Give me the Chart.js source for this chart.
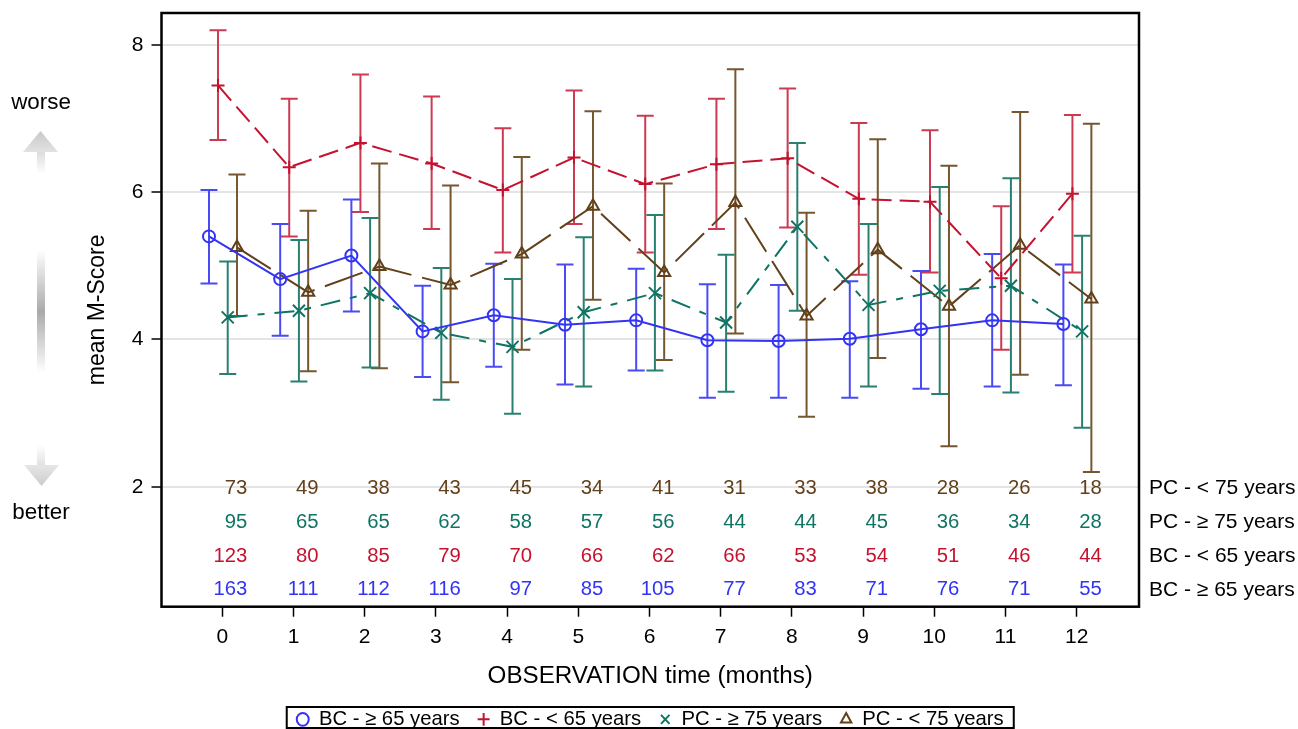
<!DOCTYPE html>
<html>
<head>
<meta charset="utf-8">
<title>mean M-Score</title>
<script src="https://cdn.jsdelivr.net/npm/chart.js@4/dist/chart.umd.min.js"></script>
<style>
  html, body { margin: 0; padding: 0; background: #fff; }
  canvas { display: block; }
</style>
</head>
<body>
<canvas id="chart" width="1298" height="729"></canvas>
<script>
const months = [0, 1, 2, 3, 4, 5, 6, 7, 8, 9, 10, 11, 12];
const seriesNames = ['BC - ≥ 65 years', 'BC - < 65 years', 'PC - ≥ 75 years', 'PC - < 75 years'];
const xOffsets = [-0.187, -0.06, 0.076, 0.206];
const markers = ['circle', 'cross', 'crossRot', 'triangle'];
const markerSizes = [6, 6.5, 8.5, 7];
const colors = ['#3333f5', '#c4122f', '#0f7464', '#62401a'];
const barColors = ['#4a4af5', '#cc3a52', '#2a8070', '#76562f'];
const dashes = [[], [20, 8], [20, 10, 7, 10], [40, 11]];

const meanBC65 = [5.40, 4.82, 5.14, 4.11, 4.33, 4.20, 4.26, 3.99, 3.98, 4.01, 4.14, 4.26, 4.21];
const upperBC65 = [6.03, 5.57, 5.90, 4.73, 5.03, 5.02, 4.96, 4.75, 4.74, 4.79, 4.93, 5.16, 5.02];
const lowerBC65 = [4.76, 4.05, 4.38, 3.49, 3.63, 3.39, 3.58, 3.21, 3.21, 3.21, 3.33, 3.36, 3.38];

const meanBCu65 = [7.45, 6.34, 6.67, 6.39, 6.03, 6.47, 6.11, 6.38, 6.46, 5.91, 5.87, 4.83, 5.98];
const upperBCu65 = [8.20, 7.27, 7.60, 7.30, 6.87, 7.38, 7.04, 7.27, 7.41, 6.94, 6.84, 5.81, 7.05];
const lowerBCu65 = [6.71, 5.40, 5.73, 5.50, 5.18, 5.57, 5.18, 5.50, 5.52, 4.88, 4.91, 3.86, 4.91];

const meanPC75 = [4.30, 4.39, 4.63, 4.09, 3.90, 4.37, 4.63, 4.23, 5.53, 4.47, 4.66, 4.73, 4.11];
const upperPC75 = [5.06, 5.35, 5.65, 4.97, 4.82, 5.39, 5.69, 5.15, 6.67, 5.57, 6.07, 6.19, 5.41];
const lowerPC75 = [3.53, 3.43, 3.62, 3.18, 2.99, 3.36, 3.58, 3.29, 4.39, 3.36, 3.26, 3.28, 2.80];

const meanPCu75 = [5.25, 4.64, 4.99, 4.74, 5.16, 5.81, 4.91, 5.86, 4.32, 5.22, 4.45, 5.28, 4.55];
const upperPCu75 = [6.24, 5.75, 6.39, 6.09, 6.48, 7.10, 6.12, 7.67, 5.72, 6.72, 6.36, 7.09, 6.93];
const lowerPCu75 = [4.32, 3.57, 3.61, 3.42, 3.86, 4.54, 3.72, 4.08, 2.95, 3.75, 2.55, 3.52, 2.20];

const nBC65 = [163, 111, 112, 116, 97, 85, 105, 77, 83, 71, 76, 71, 55];
const nBCu65 = [123, 80, 85, 79, 70, 66, 62, 66, 53, 54, 51, 46, 44];
const nPC75 = [95, 65, 65, 62, 58, 57, 56, 44, 44, 45, 36, 34, 28];
const nPCu75 = [73, 49, 38, 43, 45, 34, 41, 31, 33, 38, 28, 26, 18];

const means = [meanBC65, meanBCu65, meanPC75, meanPCu75];
const uppers = [upperBC65, upperBCu65, upperPC75, upperPCu75];
const lowers = [lowerBC65, lowerBCu65, lowerPC75, lowerPCu75];
const counts = [nBC65, nBCu65, nPC75, nPCu75];
// y position of each row of counts, on the M-Score axis
const countRows = [0.62, 1.08, 1.54, 2];

const fontFamily = '"Liberation Sans", Arial, sans-serif';

// mean lines first so the legend can keep only these four
const lineSets = seriesNames.map((name, i) => ({
    label: name,
    data: months.map((m, k) => ({ x: m + xOffsets[i], y: means[i][k] })),
    showLine: true,
    borderColor: colors[i],
    borderWidth: 2,
    borderDash: dashes[i],
    pointStyle: markers[i],
    pointRadius: markerSizes[i],
    pointBorderColor: colors[i],
    pointBorderWidth: 2,
    pointBackgroundColor: 'transparent',
    order: i
}));

// each bar is low, high, then a gap; caps are the 'line' point style
const barSets = seriesNames.map((name, i) => ({
    label: name + ' CI',
    data: months.flatMap((m, k) => [
        { x: m + xOffsets[i], y: lowers[i][k] },
        { x: m + xOffsets[i], y: uppers[i][k] },
        { x: m + xOffsets[i], y: null }
    ]),
    showLine: true,
    spanGaps: false,
    borderColor: barColors[i],
    borderWidth: 2,
    pointStyle: 'line',
    pointRadius: 8.5,
    pointBorderColor: barColors[i],
    pointBorderWidth: 2,
    order: 10 + i
}));

const extrasPlugin = {
    id: 'extras',
    afterDatasetsDraw(chart) {
        const ctx = chart.ctx;
        const area = chart.chartArea;
        const x = chart.scales.x;
        const y = chart.scales.y;

        ctx.save();
        ctx.strokeStyle = '#000';
        ctx.lineWidth = 2.5;
        ctx.strokeRect(area.left, area.top, area.right - area.left, area.bottom - area.top);

        // counts under the curves and their row labels
        ctx.textBaseline = 'middle';
        counts.forEach((row, i) => {
            const py = y.getPixelForValue(countRows[i]) + 1.5;
            ctx.font = '20.3px ' + fontFamily;
            ctx.fillStyle = colors[i];
            ctx.textAlign = 'right';
            row.forEach((n, k) => ctx.fillText(n, x.getPixelForValue(months[k]) + 25, py));
            ctx.font = '21px ' + fontFamily;
            ctx.fillStyle = '#000';
            ctx.textAlign = 'left';
            ctx.fillText(seriesNames[i], area.right + 10, py);
        });

        // legend frame
        const boxes = chart.legend.legendHitBoxes;
        const last = boxes[boxes.length - 1];
        ctx.lineWidth = 2;
        ctx.strokeRect(boxes[0].left - 10, 707, last.left + last.width + 10 - boxes[0].left + 10, 21);

        // worse / better
        ctx.fillStyle = '#000';
        ctx.textAlign = 'center';
        ctx.font = '22.4px ' + fontFamily;
        ctx.fillText('worse', 41, 103);
        ctx.fillText('better', 41, 513);

        let g = ctx.createLinearGradient(0, 131, 0, 152);
        g.addColorStop(0, '#c8c8c8');
        g.addColorStop(1, '#e2e2e2');
        ctx.fillStyle = g;
        ctx.beginPath();
        ctx.moveTo(40.5, 131);
        ctx.lineTo(58, 152);
        ctx.lineTo(23, 152);
        ctx.fill();
        g = ctx.createLinearGradient(0, 152, 0, 174);
        g.addColorStop(0, '#dcdcdc');
        g.addColorStop(1, '#ffffff');
        ctx.fillStyle = g;
        ctx.fillRect(37, 152, 8, 22);

        g = ctx.createLinearGradient(0, 250, 0, 373);
        g.addColorStop(0, '#ffffff');
        g.addColorStop(0.5, '#aaaaaa');
        g.addColorStop(1, '#ffffff');
        ctx.fillStyle = g;
        ctx.fillRect(37, 250, 8, 123);

        g = ctx.createLinearGradient(0, 445, 0, 465);
        g.addColorStop(0, '#ffffff');
        g.addColorStop(1, '#e2e2e2');
        ctx.fillStyle = g;
        ctx.fillRect(37, 445, 8, 20);
        g = ctx.createLinearGradient(0, 465, 0, 486);
        g.addColorStop(0, '#e6e6e6');
        g.addColorStop(1, '#cccccc');
        ctx.fillStyle = g;
        ctx.beginPath();
        ctx.moveTo(24, 465);
        ctx.lineTo(59, 465);
        ctx.lineTo(41.5, 486);
        ctx.fill();
        ctx.restore();
    }
};

new Chart(document.getElementById('chart'), {
    type: 'scatter',
    data: { datasets: [...lineSets, ...barSets] },
    options: {
        responsive: false,
        animation: false,
        layout: { padding: { left: 84, right: 159, top: 13, bottom: -10.5 } },
        plugins: {
            tooltip: { enabled: false },
            legend: {
                position: 'bottom',
                fullSize: false,
                labels: {
                    font: { size: 20.3, family: fontFamily },
                    color: '#000',
                    usePointStyle: true,
                    boxHeight: 9,
                    pointStyleWidth: 12,
                    padding: 18,
                    generateLabels: () => seriesNames.map((name, i) => ({
                        text: name,
                        pointStyle: markers[i],
                        strokeStyle: colors[i],
                        fillStyle: 'transparent',
                        fontColor: '#000',
                        lineWidth: 2,
                        datasetIndex: i
                    }))
                }
            }
        },
        scales: {
            x: {
                type: 'linear',
                min: -0.854,
                max: 12.875,
                afterFit(scale) { scale.height = 84.5; },
                grid: { drawOnChartArea: false, tickColor: '#000', tickLength: 10, tickWidth: 1.5 },
                border: { display: false },
                ticks: {
                    stepSize: 1,
                    includeBounds: false,
                    padding: 8,
                    color: '#000',
                    maxRotation: 0,
                    font: { size: 21, family: fontFamily }
                },
                title: {
                    display: true,
                    text: 'OBSERVATION time (months)',
                    color: '#000',
                    font: { size: 24.2, family: fontFamily },
                    padding: { top: 0, bottom: 0 }
                }
            },
            y: {
                min: 0.371,
                max: 8.434,
                afterFit(scale) {
                    scale.width = 77.5;
                    scale.paddingTop = 0;
                    scale.paddingBottom = 0;
                },
                grid: { color: '#e4e4e4', lineWidth: 2, tickColor: '#000', tickLength: 10, tickWidth: 1.5 },
                border: { display: false },
                ticks: {
                    stepSize: 2,
                    includeBounds: false,
                    padding: 8,
                    color: '#000',
                    font: { size: 21, family: fontFamily }
                },
                title: {
                    display: true,
                    text: 'mean M-Score',
                    color: '#000',
                    font: { size: 23, family: fontFamily },
                    padding: { top: 0, bottom: 0 }
                }
            }
        }
    },
    plugins: [extrasPlugin]
});
</script>
</body>
</html>
